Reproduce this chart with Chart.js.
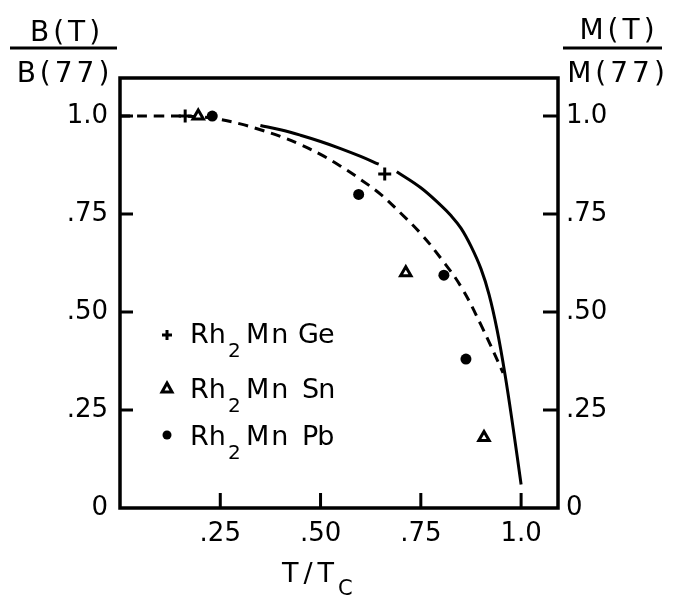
<!DOCTYPE html>
<html><head><meta charset="utf-8">
<script src="https://cdn.jsdelivr.net/npm/chart.js@4.4.1/dist/chart.umd.min.js"></script>
<style>html,body{margin:0;padding:0;background:#fff;}</style>
</head><body>
<canvas id="c" width="680" height="597" style="width:680px;height:597px;display:block"></canvas>
<script>
// ---- data ----
const xTicks = [0.25, 0.5, 0.75, 1.0];
const xTickLabels = ['.25', '.50', '.75', '1.0'];
const yTicks = [0, 0.25, 0.5, 0.75, 1.0];
const yTickLabels = ['0', '.25', '.50', '.75', '1.0'];

// dashed curve  B(T)/B(77)
const dashedT = [0, 0.1, 0.2, 0.25, 0.3, 0.35, 0.4, 0.45, 0.5, 0.55, 0.6, 0.65, 0.7, 0.75, 0.8, 0.85, 0.9, 0.955];
const dashedB = [1.0, 1.0, 0.998, 0.991, 0.98, 0.965, 0.948, 0.927, 0.902, 0.872, 0.838, 0.80, 0.752, 0.70, 0.637, 0.565, 0.467, 0.345];

// solid curve  M(T)/M(77)  (null = gap around the + point)
const solidT = [0.35, 0.4, 0.45, 0.5, 0.55, 0.6, 0.645, 0.667, 0.69, 0.75, 0.8, 0.825, 0.85, 0.875, 0.9, 0.92, 0.94, 0.96, 0.98, 1.0];
const solidB = [0.976, 0.965, 0.951, 0.935, 0.917, 0.897, 0.877, null, 0.858, 0.817, 0.772, 0.746, 0.714, 0.668, 0.61, 0.545, 0.455, 0.34, 0.205, 0.06];

// measured points
const geT = [0.1625, 0.66];          const geB = [1.0, 0.852];
const snT = [0.195, 0.7125, 0.9075]; const snB = [1.0, 0.60, 0.18];
const pbT = [0.23, 0.595, 0.8075, 0.8625]; const pbB = [1.0, 0.80, 0.594, 0.38];

const seriesNames = [['Rh', '2', 'Mn', 'Ge'], ['Rh', '2', 'Mn', 'Sn'], ['Rh', '2', 'Mn', 'Pb']];

const pts = (xs, ys) => xs.map((x, i) => ({x: x, y: ys[i]}));
const FONT = '"DejaVu Sans", sans-serif';

function spaced(ctx, text, x, y, sp) {
  for (const ch of text) { ctx.fillText(ch, x, y); x += ctx.measureText(ch).width + sp; }
  return x;
}
function spacedWidth(ctx, text, sp) {
  let w = 0; for (const ch of text) w += ctx.measureText(ch).width + sp; return w - sp;
}

const decor = {
  id: 'decor',
  afterDraw(chart) {
    const ctx = chart.ctx, a = chart.chartArea;
    const xs = chart.scales.x, ys = chart.scales.y, y2 = chart.scales.y2;
    ctx.save();
    ctx.strokeStyle = '#000'; ctx.fillStyle = '#000';
    // frame
    ctx.lineWidth = 3.5;
    ctx.strokeRect(a.left, a.top, a.right - a.left, a.bottom - a.top);
    // inward ticks
    ctx.lineWidth = 3;
    ctx.beginPath();
    xTicks.forEach(v => { const p = xs.getPixelForValue(v); ctx.moveTo(p, a.bottom); ctx.lineTo(p, a.bottom - 15); });
    yTicks.slice(1).forEach(v => { const p = ys.getPixelForValue(v); ctx.moveTo(a.left, p); ctx.lineTo(a.left + 13, p); });
    yTicks.slice(1).forEach(v => { const p = y2.getPixelForValue(v); ctx.moveTo(a.right, p); ctx.lineTo(a.right - 15, p); });
    ctx.stroke();

    // axis titles (fractions)
    ctx.textBaseline = 'alphabetic';
    ctx.font = '28px ' + FONT;
    const cen = (t, cx, y, sp) => spaced(ctx, t, cx - spacedWidth(ctx, t, sp) / 2, y, sp);
    cen('B(T)', 65, 41, 4);
    cen('B(77)', 63, 82, 4);
    cen('M(T)', 617, 39, 4);
    cen('M(77)', 616, 82, 4);
    ctx.lineWidth = 3;
    ctx.beginPath();
    ctx.moveTo(10, 48); ctx.lineTo(117, 48);
    ctx.moveTo(563, 48); ctx.lineTo(662, 48);
    ctx.stroke();

    // x title T/T_C
    ctx.font = '27px ' + FONT;
    spaced(ctx, 'T/T', 282, 582, 5);
    ctx.font = '21px ' + FONT;
    ctx.fillText('C', 338, 595);

    // legend
    const rows = [{y: 343, my: 335}, {y: 398, my: 388}, {y: 445, my: 435}];
    const lastX = [298, 302, 302];
    rows.forEach((r, i) => {
      const mx = 167;
      ctx.lineWidth = 3;
      if (i === 0) {
        ctx.beginPath(); ctx.moveTo(mx - 5, r.my); ctx.lineTo(mx + 5, r.my);
        ctx.moveTo(mx, r.my - 5); ctx.lineTo(mx, r.my + 5); ctx.stroke();
      } else if (i === 1) {
        ctx.beginPath(); ctx.moveTo(mx, r.my - 5); ctx.lineTo(mx + 5, r.my + 4); ctx.lineTo(mx - 5, r.my + 4); ctx.closePath();
        ctx.fillStyle = '#fff'; ctx.fill(); ctx.stroke(); ctx.fillStyle = '#000';
      } else {
        ctx.beginPath(); ctx.arc(mx, r.my, 4.5, 0, Math.PI * 2); ctx.fill();
      }
      const n = seriesNames[i];
      ctx.font = '27px ' + FONT;
      spaced(ctx, n[0], 190, r.y, 0);
      ctx.font = '20px ' + FONT;
      ctx.fillText(n[1], 228, r.y + 14);
      ctx.font = '27px ' + FONT;
      spaced(ctx, n[2], 246, r.y, 2);
      spaced(ctx, n[3], lastX[i], r.y, -1);
    });
    ctx.restore();
  }
};

const tickFont = {family: FONT, size: 26};

new Chart(document.getElementById('c'), {
  type: 'scatter',
  data: {
    datasets: [
      {label: 'B dashed', data: pts(dashedT, dashedB), showLine: true, borderColor: '#000', borderWidth: 3,
       borderDash: [10, 7], pointRadius: 0, tension: 0.4, order: 5},
      {label: 'M solid', data: pts(solidT, solidB), showLine: true, spanGaps: false, borderColor: '#000', borderWidth: 3,
       pointRadius: 0, tension: 0.4, order: 4},
      {label: 'Rh2MnGe', data: pts(geT, geB), pointStyle: 'cross', pointRadius: 6.5, borderColor: '#000', borderWidth: 3, order: 1},
      {label: 'Rh2MnSn', data: pts(snT, snB), pointStyle: 'triangle', pointRadius: 6, backgroundColor: '#fff', borderColor: '#000', borderWidth: 3, order: 1},
      {label: 'Rh2MnPb', data: pts(pbT, pbB), pointStyle: 'circle', pointRadius: 5.5, backgroundColor: '#000', borderColor: '#000', borderWidth: 0, order: 1}
    ]
  },
  options: {
    responsive: false,
    animation: false,
    devicePixelRatio: 1,
    layout: {padding: {top: 78, left: 0, right: 0, bottom: 0}},
    plugins: {legend: {display: false}, tooltip: {enabled: false}},
    scales: {
      x: {
        type: 'linear', position: 'bottom', min: 0, max: 1.092,
        afterBuildTicks: s => { s.ticks = xTicks.map(v => ({value: v})); },
        afterFit: s => { s.height = 89; },
        ticks: {color: '#000', font: tickFont, padding: 11, maxRotation: 0, autoSkip: false,
                callback: (v, i) => xTickLabels[i]},
        grid: {display: false, drawTicks: false}, border: {display: false}
      },
      y: {
        type: 'linear', position: 'left', min: 0, max: 1.097,
        afterBuildTicks: s => { s.ticks = yTicks.map(v => ({value: v})); },
        afterFit: s => { s.width = 120; },
        ticks: {color: '#000', font: tickFont, padding: 12, autoSkip: false,
                callback: (v, i) => yTickLabels[i]},
        grid: {display: false, drawTicks: false}, border: {display: false}
      },
      y2: {
        type: 'linear', position: 'right', min: 0, max: 1.097,
        afterBuildTicks: s => { s.ticks = yTicks.map(v => ({value: v})); },
        afterFit: s => { s.width = 122; },
        ticks: {color: '#000', font: tickFont, padding: 8, autoSkip: false,
                callback: (v, i) => yTickLabels[i]},
        grid: {display: false, drawTicks: false}, border: {display: false}
      }
    }
  },
  plugins: [decor]
});
</script>
</body></html>
